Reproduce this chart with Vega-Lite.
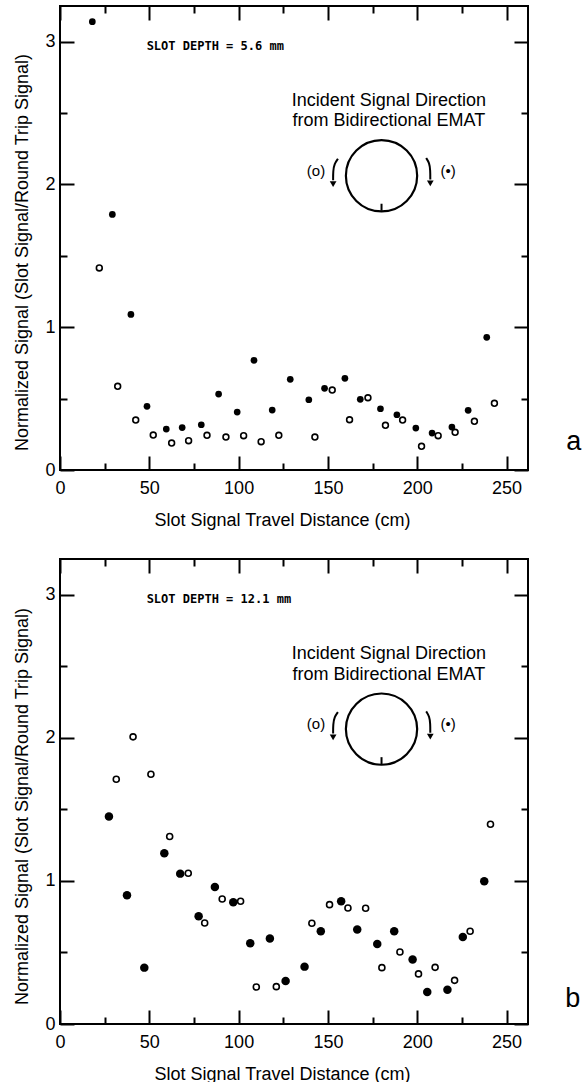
{
  "$schema": "https://vega.github.io/schema/vega-lite/v6.json",
  "background": "white",
  "padding": {"left": 12, "top": 4, "right": 2, "bottom": 2},
  "spacing": 27,
  "config": {
    "view": {"stroke": "black", "strokeWidth": 2},
    "font": "Liberation Sans",
    "axis": {
      "labelFont": "Liberation Sans", "labelFontSize": 18, "labelColor": "black",
      "titleFont": "Liberation Sans", "titleFontSize": 18, "titleFontWeight": "normal", "titleColor": "black",
      "tickColor": "black", "tickWidth": 2, "domain": false, "grid": false,
      "labelOverlap": false, "labelFlush": false
    }
  },
  "datasets": {
    "pts": [
      {"panel":"a","dir":"open","x":22.0,"y":1.415},
      {"panel":"a","dir":"open","x":32.3,"y":0.586},
      {"panel":"a","dir":"open","x":42.4,"y":0.35},
      {"panel":"a","dir":"open","x":52.2,"y":0.245},
      {"panel":"a","dir":"open","x":62.5,"y":0.189},
      {"panel":"a","dir":"open","x":72.0,"y":0.205},
      {"panel":"a","dir":"open","x":82.3,"y":0.243},
      {"panel":"a","dir":"open","x":92.9,"y":0.231},
      {"panel":"a","dir":"open","x":102.8,"y":0.24},
      {"panel":"a","dir":"open","x":112.6,"y":0.198},
      {"panel":"a","dir":"open","x":122.5,"y":0.243},
      {"panel":"a","dir":"open","x":142.7,"y":0.231},
      {"panel":"a","dir":"open","x":152.4,"y":0.56},
      {"panel":"a","dir":"open","x":162.1,"y":0.352},
      {"panel":"a","dir":"open","x":172.4,"y":0.506},
      {"panel":"a","dir":"open","x":182.2,"y":0.313},
      {"panel":"a","dir":"open","x":191.8,"y":0.35},
      {"panel":"a","dir":"open","x":202.4,"y":0.166},
      {"panel":"a","dir":"open","x":211.7,"y":0.24},
      {"panel":"a","dir":"open","x":221.2,"y":0.264},
      {"panel":"a","dir":"open","x":232.0,"y":0.341},
      {"panel":"a","dir":"open","x":243.2,"y":0.467},
      {"panel":"a","dir":"filled","x":18.1,"y":3.14},
      {"panel":"a","dir":"filled","x":29.3,"y":1.79},
      {"panel":"a","dir":"filled","x":39.7,"y":1.09},
      {"panel":"a","dir":"filled","x":48.7,"y":0.446},
      {"panel":"a","dir":"filled","x":59.5,"y":0.287},
      {"panel":"a","dir":"filled","x":68.4,"y":0.297},
      {"panel":"a","dir":"filled","x":79.1,"y":0.317},
      {"panel":"a","dir":"filled","x":88.8,"y":0.532},
      {"panel":"a","dir":"filled","x":99.2,"y":0.406},
      {"panel":"a","dir":"filled","x":108.6,"y":0.768},
      {"panel":"a","dir":"filled","x":118.8,"y":0.42},
      {"panel":"a","dir":"filled","x":128.9,"y":0.635},
      {"panel":"a","dir":"filled","x":139.3,"y":0.492},
      {"panel":"a","dir":"filled","x":148.1,"y":0.572},
      {"panel":"a","dir":"filled","x":159.5,"y":0.642},
      {"panel":"a","dir":"filled","x":168.1,"y":0.495},
      {"panel":"a","dir":"filled","x":179.4,"y":0.429},
      {"panel":"a","dir":"filled","x":188.6,"y":0.387},
      {"panel":"a","dir":"filled","x":199.2,"y":0.294},
      {"panel":"a","dir":"filled","x":208.3,"y":0.259},
      {"panel":"a","dir":"filled","x":219.4,"y":0.301},
      {"panel":"a","dir":"filled","x":228.5,"y":0.418},
      {"panel":"a","dir":"filled","x":238.9,"y":0.929},
      {"panel":"b","dir":"open","x":31.5,"y":1.711},
      {"panel":"b","dir":"open","x":40.9,"y":2.007},
      {"panel":"b","dir":"open","x":50.9,"y":1.746},
      {"panel":"b","dir":"open","x":61.4,"y":1.31},
      {"panel":"b","dir":"open","x":71.8,"y":1.054},
      {"panel":"b","dir":"open","x":81.0,"y":0.706},
      {"panel":"b","dir":"open","x":90.8,"y":0.874},
      {"panel":"b","dir":"open","x":101.1,"y":0.858},
      {"panel":"b","dir":"open","x":109.9,"y":0.259},
      {"panel":"b","dir":"open","x":121.1,"y":0.261},
      {"panel":"b","dir":"open","x":141.0,"y":0.704},
      {"panel":"b","dir":"open","x":150.9,"y":0.834},
      {"panel":"b","dir":"open","x":161.2,"y":0.811},
      {"panel":"b","dir":"open","x":171.1,"y":0.809},
      {"panel":"b","dir":"open","x":180.2,"y":0.394},
      {"panel":"b","dir":"open","x":190.3,"y":0.503},
      {"panel":"b","dir":"open","x":200.7,"y":0.35},
      {"panel":"b","dir":"open","x":210.0,"y":0.396},
      {"panel":"b","dir":"open","x":220.9,"y":0.305},
      {"panel":"b","dir":"open","x":229.6,"y":0.648},
      {"panel":"b","dir":"open","x":241.0,"y":1.396},
      {"panel":"b","dir":"filled","x":27.4,"y":1.45},
      {"panel":"b","dir":"filled","x":37.5,"y":0.9},
      {"panel":"b","dir":"filled","x":47.2,"y":0.394},
      {"panel":"b","dir":"filled","x":58.4,"y":1.194},
      {"panel":"b","dir":"filled","x":67.3,"y":1.051},
      {"panel":"b","dir":"filled","x":77.6,"y":0.753},
      {"panel":"b","dir":"filled","x":86.7,"y":0.958},
      {"panel":"b","dir":"filled","x":97.0,"y":0.851},
      {"panel":"b","dir":"filled","x":106.5,"y":0.564},
      {"panel":"b","dir":"filled","x":117.5,"y":0.597},
      {"panel":"b","dir":"filled","x":126.3,"y":0.301},
      {"panel":"b","dir":"filled","x":136.9,"y":0.401},
      {"panel":"b","dir":"filled","x":146.0,"y":0.648},
      {"panel":"b","dir":"filled","x":157.4,"y":0.858},
      {"panel":"b","dir":"filled","x":166.4,"y":0.66},
      {"panel":"b","dir":"filled","x":177.6,"y":0.559},
      {"panel":"b","dir":"filled","x":187.1,"y":0.648},
      {"panel":"b","dir":"filled","x":197.4,"y":0.45},
      {"panel":"b","dir":"filled","x":205.6,"y":0.224},
      {"panel":"b","dir":"filled","x":216.9,"y":0.24},
      {"panel":"b","dir":"filled","x":225.5,"y":0.608},
      {"panel":"b","dir":"filled","x":237.5,"y":0.998}
    ],
    "txt": [
      {"panel":"a","kind":"depth","x":48.5,"y":2.969,"label":"SLOT DEPTH = 5.6 mm"},
      {"panel":"b","kind":"depth","x":48.5,"y":2.969,"label":"SLOT DEPTH = 12.1 mm"},
      {"panel":"a","kind":"head","x":184.1,"y":2.585,"label":"Incident Signal Direction"},
      {"panel":"a","kind":"head","x":184.1,"y":2.442,"label":"from Bidirectional EMAT"},
      {"panel":"b","kind":"head","x":184.1,"y":2.585,"label":"Incident Signal Direction"},
      {"panel":"b","kind":"head","x":184.1,"y":2.442,"label":"from Bidirectional EMAT"},
      {"panel":"a","kind":"sym","x":143.3,"y":2.097,"label":"(o)"},
      {"panel":"a","kind":"sym","x":217.3,"y":2.097,"label":"(•)"},
      {"panel":"b","kind":"sym","x":143.3,"y":2.097,"label":"(o)"},
      {"panel":"b","kind":"sym","x":217.3,"y":2.097,"label":"(•)"},
      {"panel":"a","kind":"tag","x":287.6,"y":0.14,"label":"a"},
      {"panel":"b","kind":"tag","x":287.1,"y":0.121,"label":"b"}
    ],
    "circ": [
      {"panel":"a","x":180.0,"y":2.061},
      {"panel":"b","x":180.0,"y":2.061}
    ],
    "nick": [
      {"panel":"a","x":180.0,"y":1.816,"y2":1.865},
      {"panel":"b","x":180.0,"y":1.816,"y2":1.865}
    ],
    "arrow": [
      {"panel":"a","id":"L","k":1,"x":155.6,"y":2.18},
      {"panel":"a","id":"L","k":2,"x":153.6,"y":2.145},
      {"panel":"a","id":"L","k":3,"x":152.9,"y":2.095},
      {"panel":"a","id":"L","k":4,"x":152.9,"y":2.03},
      {"panel":"a","id":"R","k":1,"x":205.0,"y":2.185},
      {"panel":"a","id":"R","k":2,"x":206.8,"y":2.15},
      {"panel":"a","id":"R","k":3,"x":207.3,"y":2.1},
      {"panel":"a","id":"R","k":4,"x":207.3,"y":2.035},
      {"panel":"b","id":"L","k":1,"x":155.6,"y":2.18},
      {"panel":"b","id":"L","k":2,"x":153.6,"y":2.145},
      {"panel":"b","id":"L","k":3,"x":152.9,"y":2.095},
      {"panel":"b","id":"L","k":4,"x":152.9,"y":2.03},
      {"panel":"b","id":"R","k":1,"x":205.0,"y":2.185},
      {"panel":"b","id":"R","k":2,"x":206.8,"y":2.15},
      {"panel":"b","id":"R","k":3,"x":207.3,"y":2.1},
      {"panel":"b","id":"R","k":4,"x":207.3,"y":2.035}
    ],
    "tip": [
      {"panel":"a","x":152.9,"y":2.003},
      {"panel":"a","x":207.3,"y":2.008},
      {"panel":"b","x":152.9,"y":2.003},
      {"panel":"b","x":207.3,"y":2.008}
    ]
  },
  "vconcat": [
    {
      "width": 468, "height": 464,
      "resolve": {"axis": {"x": "independent", "y": "independent"}},
      "encoding": {
        "x": {"field": "x", "type": "quantitative", "scale": {"domain": [0, 262], "nice": false, "zero": false}, "axis": null},
        "y": {"field": "y", "type": "quantitative", "scale": {"domain": [0, 3.25], "nice": false, "zero": false}, "axis": null}
      },
      "layer": [
        {
          "data": {"name": "pts"},
          "transform": [{"filter": "datum.panel === 'a' && datum.dir === 'open'"}],
          "mark": {"type": "point", "shape": "circle", "filled": false, "stroke": "black", "strokeWidth": 1.6, "size": 34, "opacity": 1},
          "encoding": {
            "x": {"field": "x", "type": "quantitative", "scale": {"domain": [0, 262], "nice": false, "zero": false},
              "axis": {"orient": "bottom", "values": [0,25,50,75,100,125,150,175,200,225,250],
                "tickSize": {"condition": {"test": "datum.value % 50 === 0", "value": -14}, "value": -7},
                "labelExpr": "datum.value % 50 === 0 ? datum.label : ''", "labelPadding": 23,
                "title": "Slot Signal Travel Distance (cm)", "titlePadding": 7, "titleX": 222}},
            "y": {"field": "y", "type": "quantitative", "scale": {"domain": [0, 3.25], "nice": false, "zero": false},
              "axis": {"orient": "left", "values": [0,0.5,1,1.5,2,2.5,3],
                "tickSize": {"condition": {"test": "datum.value % 1 === 0", "value": -14}, "value": -7},
                "labelExpr": "datum.value % 1 === 0 ? format(datum.value, 'd') : ''", "labelPadding": 19,
                "title": "Normalized Signal (Slot Signal/Round Trip Signal)", "titlePadding": 13, "titleY": 246}}
          }
        },
        {
          "data": {"name": "pts"},
          "transform": [{"filter": "datum.panel === 'a' && datum.dir === 'filled'"}],
          "mark": {"type": "point", "shape": "circle", "filled": true, "color": "black", "size": 45, "opacity": 1},
          "encoding": {
            "x": {"field": "x", "type": "quantitative", "scale": {"domain": [0, 262], "nice": false, "zero": false},
              "axis": {"orient": "top", "values": [0,25,50,75,100,125,150,175,200,225,250],
                "tickSize": {"condition": {"test": "datum.value % 50 === 0", "value": -14}, "value": -7},
                "labels": false, "title": null}},
            "y": {"field": "y", "type": "quantitative", "scale": {"domain": [0, 3.25], "nice": false, "zero": false},
              "axis": {"orient": "right", "values": [0,0.5,1,1.5,2,2.5,3],
                "tickSize": {"condition": {"test": "datum.value % 1 === 0", "value": -14}, "value": -7},
                "labels": false, "title": null}}
          }
        },
        {
          "data": {"name": "circ"},
          "transform": [{"filter": "datum.panel === 'a'"}],
          "mark": {"type": "point", "shape": "circle", "filled": false, "stroke": "black", "strokeWidth": 2.2, "size": 5080, "opacity": 1}
        },
        {
          "data": {"name": "nick"},
          "transform": [{"filter": "datum.panel === 'a'"}],
          "mark": {"type": "rule", "color": "black", "strokeWidth": 2},
          "encoding": {"y2": {"field": "y2"}}
        },
        {
          "data": {"name": "arrow"},
          "transform": [{"filter": "datum.panel === 'a'"}],
          "mark": {"type": "line", "color": "black", "strokeWidth": 2, "interpolate": "basis"},
          "encoding": {"detail": {"field": "id"}, "order": {"field": "k", "type": "quantitative"}}
        },
        {
          "data": {"name": "tip"},
          "transform": [{"filter": "datum.panel === 'a'"}],
          "mark": {"type": "point", "shape": "triangle-down", "filled": true, "color": "black", "size": 45, "opacity": 1}
        },
        {
          "data": {"name": "txt"},
          "transform": [{"filter": "datum.panel === 'a' && datum.kind === 'depth'"}],
          "mark": {"type": "text", "align": "left", "baseline": "middle", "font": "DejaVu Sans Mono", "fontWeight": "bold", "fontSize": 12, "color": "black"},
          "encoding": {"text": {"field": "label"}}
        },
        {
          "data": {"name": "txt"},
          "transform": [{"filter": "datum.panel === 'a' && datum.kind === 'head'"}],
          "mark": {"type": "text", "align": "center", "baseline": "middle", "font": "Liberation Sans", "fontSize": 18, "color": "black"},
          "encoding": {"text": {"field": "label"}}
        },
        {
          "data": {"name": "txt"},
          "transform": [{"filter": "datum.panel === 'a' && datum.kind === 'sym'"}],
          "mark": {"type": "text", "align": "center", "baseline": "middle", "font": "Liberation Sans", "fontSize": 15, "color": "black"},
          "encoding": {"text": {"field": "label"}}
        },
        {
          "data": {"name": "txt"},
          "transform": [{"filter": "datum.panel === 'a' && datum.kind === 'tag'"}],
          "mark": {"type": "text", "align": "center", "baseline": "alphabetic", "font": "Liberation Sans", "fontSize": 27, "color": "black"},
          "encoding": {"text": {"field": "label"}}
        }
      ]
    },
    {
      "width": 468, "height": 465,
      "resolve": {"axis": {"x": "independent", "y": "independent"}},
      "encoding": {
        "x": {"field": "x", "type": "quantitative", "scale": {"domain": [0, 262], "nice": false, "zero": false}, "axis": null},
        "y": {"field": "y", "type": "quantitative", "scale": {"domain": [0, 3.25], "nice": false, "zero": false}, "axis": null}
      },
      "layer": [
        {
          "data": {"name": "pts"},
          "transform": [{"filter": "datum.panel === 'b' && datum.dir === 'open'"}],
          "mark": {"type": "point", "shape": "circle", "filled": false, "stroke": "black", "strokeWidth": 1.6, "size": 36, "opacity": 1},
          "encoding": {
            "x": {"field": "x", "type": "quantitative", "scale": {"domain": [0, 262], "nice": false, "zero": false},
              "axis": {"orient": "bottom", "values": [0,25,50,75,100,125,150,175,200,225,250],
                "tickSize": {"condition": {"test": "datum.value % 50 === 0", "value": -14}, "value": -7},
                "labelExpr": "datum.value % 50 === 0 ? datum.label : ''", "labelPadding": 23,
                "title": "Slot Signal Travel Distance (cm)", "titlePadding": 7, "titleX": 222}},
            "y": {"field": "y", "type": "quantitative", "scale": {"domain": [0, 3.25], "nice": false, "zero": false},
              "axis": {"orient": "left", "values": [0,0.5,1,1.5,2,2.5,3],
                "tickSize": {"condition": {"test": "datum.value % 1 === 0", "value": -14}, "value": -7},
                "labelExpr": "datum.value % 1 === 0 ? format(datum.value, 'd') : ''", "labelPadding": 19,
                "title": "Normalized Signal (Slot Signal/Round Trip Signal)", "titlePadding": 13, "titleY": 247}}
          }
        },
        {
          "data": {"name": "pts"},
          "transform": [{"filter": "datum.panel === 'b' && datum.dir === 'filled'"}],
          "mark": {"type": "point", "shape": "circle", "filled": true, "color": "black", "size": 72, "opacity": 1},
          "encoding": {
            "x": {"field": "x", "type": "quantitative", "scale": {"domain": [0, 262], "nice": false, "zero": false},
              "axis": {"orient": "top", "values": [0,25,50,75,100,125,150,175,200,225,250],
                "tickSize": {"condition": {"test": "datum.value % 50 === 0", "value": -14}, "value": -7},
                "labels": false, "title": null}},
            "y": {"field": "y", "type": "quantitative", "scale": {"domain": [0, 3.25], "nice": false, "zero": false},
              "axis": {"orient": "right", "values": [0,0.5,1,1.5,2,2.5,3],
                "tickSize": {"condition": {"test": "datum.value % 1 === 0", "value": -14}, "value": -7},
                "labels": false, "title": null}}
          }
        },
        {
          "data": {"name": "circ"},
          "transform": [{"filter": "datum.panel === 'b'"}],
          "mark": {"type": "point", "shape": "circle", "filled": false, "stroke": "black", "strokeWidth": 2.2, "size": 5080, "opacity": 1}
        },
        {
          "data": {"name": "nick"},
          "transform": [{"filter": "datum.panel === 'b'"}],
          "mark": {"type": "rule", "color": "black", "strokeWidth": 2},
          "encoding": {"y2": {"field": "y2"}}
        },
        {
          "data": {"name": "arrow"},
          "transform": [{"filter": "datum.panel === 'b'"}],
          "mark": {"type": "line", "color": "black", "strokeWidth": 2, "interpolate": "basis"},
          "encoding": {"detail": {"field": "id"}, "order": {"field": "k", "type": "quantitative"}}
        },
        {
          "data": {"name": "tip"},
          "transform": [{"filter": "datum.panel === 'b'"}],
          "mark": {"type": "point", "shape": "triangle-down", "filled": true, "color": "black", "size": 45, "opacity": 1}
        },
        {
          "data": {"name": "txt"},
          "transform": [{"filter": "datum.panel === 'b' && datum.kind === 'depth'"}],
          "mark": {"type": "text", "align": "left", "baseline": "middle", "font": "DejaVu Sans Mono", "fontWeight": "bold", "fontSize": 12, "color": "black"},
          "encoding": {"text": {"field": "label"}}
        },
        {
          "data": {"name": "txt"},
          "transform": [{"filter": "datum.panel === 'b' && datum.kind === 'head'"}],
          "mark": {"type": "text", "align": "center", "baseline": "middle", "font": "Liberation Sans", "fontSize": 18, "color": "black"},
          "encoding": {"text": {"field": "label"}}
        },
        {
          "data": {"name": "txt"},
          "transform": [{"filter": "datum.panel === 'b' && datum.kind === 'sym'"}],
          "mark": {"type": "text", "align": "center", "baseline": "middle", "font": "Liberation Sans", "fontSize": 15, "color": "black"},
          "encoding": {"text": {"field": "label"}}
        },
        {
          "data": {"name": "txt"},
          "transform": [{"filter": "datum.panel === 'b' && datum.kind === 'tag'"}],
          "mark": {"type": "text", "align": "center", "baseline": "alphabetic", "font": "Liberation Sans", "fontSize": 27, "color": "black"},
          "encoding": {"text": {"field": "label"}}
        }
      ]
    }
  ]
}
